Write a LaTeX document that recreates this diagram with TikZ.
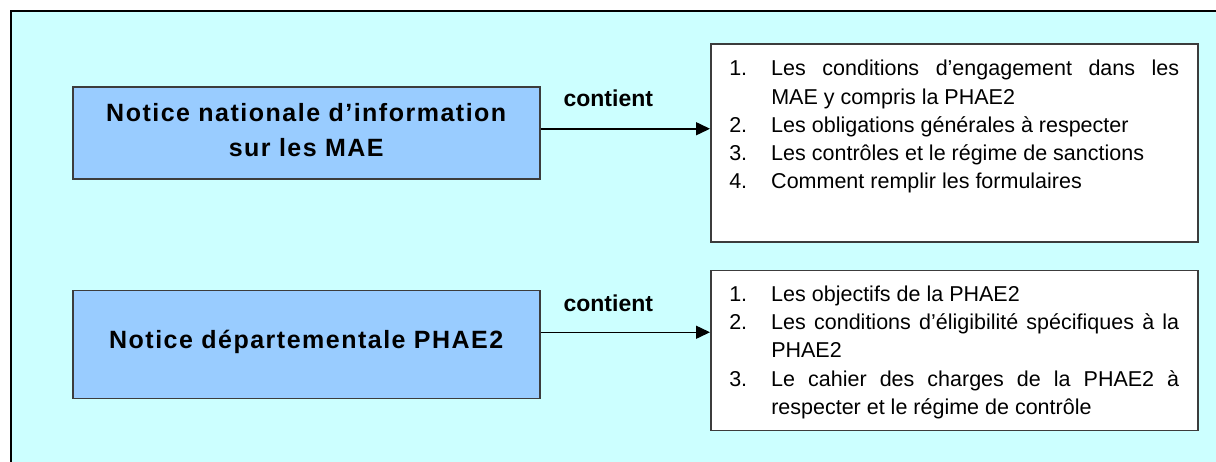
\documentclass[tikz,border=0pt]{standalone}
\usepackage{fontspec}
\setmainfont{Liberation Sans}
\usepackage{xcolor}
\usepackage{tikz}
\usetikzlibrary{positioning, arrows.meta, calc}

\definecolor{fond}{HTML}{CCFFFF}
\definecolor{bleu}{HTML}{99CCFF}
\definecolor{trait}{HTML}{3C3C3C}

\hyphenpenalty=10000
\exhyphenpenalty=10000
\hbadness=10000
% un point de liste justifie, retrait de 42pt
\newcommand{\puce}[2]{\rightskip=0pt\relax\spaceskip=0pt\relax\xspaceskip=0pt\relax\parfillskip=0pt plus 1fil\relax
	\hangindent=42pt\hangafter=1\noindent\makebox[42pt][l]{#1}#2\par}

\tikzset{
	notice/.style={draw=trait, line width=1.5pt, fill=bleu, inner sep=0pt, text width=467pt, align=center,
		font=\fontsize{25}{35}\selectfont\bfseries\addfontfeatures{LetterSpace=6}},
	contenu/.style={draw=trait, line width=1.5pt, fill=white, inner xsep=18.5pt, inner ysep=0pt, text width=450pt,
		font=\fontsize{21.5}{28.3}\selectfont},
	lien/.style={line width=1.5pt, ->},
	etiquette/.style={font=\fontsize{23}{28}\selectfont\bfseries, inner sep=3pt}
}

\begin{document}
\begin{tikzpicture}[x=1pt, y=-1pt, >={Triangle[length=14pt, width=13pt]}]
	\useasboundingbox (0,0) rectangle (1216,461);
	% fond et cadre
	\begin{scope}
		\clip (0,0) rectangle (1216,461);
		\draw[line width=2pt, fill=fond] (11,11) rectangle (1260,500);
	\end{scope}
	
	% Les deux notices
	\node[notice, anchor=north west, text height=35pt, text depth=57pt] (nationale) at (72,86)
		{Notice nationale d’information\\sur les MAE};
	\node[notice, below=110pt of nationale, text height=58pt, text depth=50pt] (departementale)
		{Notice départementale PHAE2};
	
	% Ce qu'elles contiennent
	\node[contenu, anchor=north west, text height=32pt, text depth=166pt] (liste1) at (710,43) {%
		\puce{1.}{Les conditions d’engagement dans les\linebreak MAE y compris la PHAE2}
		\puce{2.}{Les obligations générales à respecter}
		\puce{3.}{Les contrôles et le régime de sanctions}
		\puce{4.}{Comment remplir les formulaires}};
	\node[contenu, below=27pt of liste1, text height=31pt, text depth=129pt] (liste2) {%
		\puce{1.}{Les objectifs de la PHAE2}
		\puce{2.}{Les conditions d’éligibilité spécifiques à la\linebreak PHAE2}
		\puce{3.}{Le cahier des charges de la PHAE2 à\linebreak respecter et le régime de contrôle}};
	
	% Les liens
	\draw[lien] ([yshift=4pt]nationale.east) -- node[etiquette, pos=0.4, above=18pt] (c1) {contient}
		([yshift=4pt]nationale.east -| liste1.west);
	\draw[lien] ([yshift=12pt]departementale.east) -- node[etiquette, pos=0.4, above=17pt] (c2) {contient}
		([yshift=12pt]departementale.east -| liste2.west);
\end{tikzpicture}
\end{document}
